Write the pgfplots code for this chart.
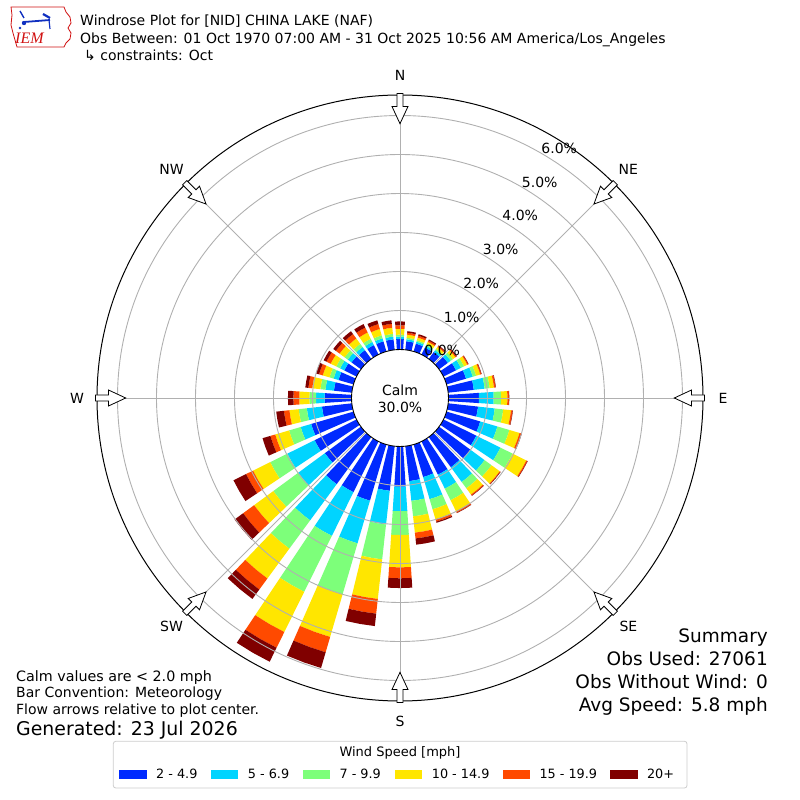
\documentclass[border=0pt]{standalone}
\usepackage{fontspec}
\setmainfont{DejaVu Sans}
\newfontfamily\lserif{Liberation Serif}
\usepackage{pgfplots}
\usepackage{pgfplotstable}
\pgfplotsset{compat=1.18}

\definecolor{spd1}{HTML}{002AFF}
\definecolor{spd2}{HTML}{00D4FF}
\definecolor{spd3}{HTML}{7DFF7A}
\definecolor{spd4}{HTML}{FFE600}
\definecolor{spd5}{HTML}{FF4A00}
\definecolor{spd6}{HTML}{800000}
\definecolor{gridc}{HTML}{B0B0B0}
\definecolor{legc}{HTML}{CCCCCC}
\definecolor{iemred}{HTML}{D01010}
\definecolor{iemblue}{HTML}{1030C0}

% cumulative frequency (%) per direction, speed bins stacked
\pgfplotstableread{
d   c1   c2   c3   c4   c5   c6
0   0.27 0.33 0.38 0.53 0.62 0.72
10  0.22 0.27 0.31 0.39 0.44 0.48
20  0.21 0.26 0.30 0.37 0.42 0.46
30  0.20 0.25 0.29 0.36 0.40 0.43
40  0.22 0.28 0.32 0.38 0.41 0.43
50  0.28 0.37 0.44 0.52 0.55 0.57
60  0.36 0.50 0.59 0.68 0.71 0.72
70  0.52 0.70 0.79 0.90 0.93 0.94
80  0.66 0.94 1.07 1.18 1.22 1.23
90  0.78 1.16 1.35 1.51 1.55 1.56
100 0.77 1.20 1.42 1.62 1.66 1.67
110 0.90 1.36 1.68 1.95 2.00 2.01
120 0.94 1.63 1.98 2.37 2.40 2.41
130 1.00 1.45 1.67 1.93 1.95 1.96
140 0.96 1.43 1.63 1.83 1.86 1.87
150 0.95 1.35 1.68 2.00 2.04 2.05
160 0.87 1.46 1.73 2.00 2.06 2.09
170 0.90 1.41 1.81 2.23 2.38 2.54
180 1.03 1.66 2.27 3.10 3.38 3.63
190 1.15 2.02 2.92 3.94 4.32 4.64
200 1.50 2.64 4.00 5.14 5.55 5.97
210 1.45 2.70 4.30 5.45 5.90 6.30
220 1.50 2.65 3.55 4.50 4.85 5.15
230 1.15 2.00 2.79 3.40 3.75 4.02
240 1.20 1.98 2.47 2.96 3.16 3.52
250 1.13 1.41 1.72 2.09 2.22 2.43
260 0.77 1.16 1.37 1.61 1.75 1.95
270 0.69 0.91 1.08 1.34 1.49 1.63
280 0.46 0.68 0.81 1.02 1.12 1.20
290 0.40 0.53 0.64 0.82 0.92 1.00
300 0.35 0.47 0.58 0.74 0.86 0.94
310 0.30 0.42 0.52 0.68 0.80 0.88
320 0.28 0.38 0.48 0.65 0.79 0.88
330 0.27 0.36 0.45 0.63 0.77 0.87
340 0.27 0.35 0.43 0.60 0.73 0.83
350 0.27 0.34 0.41 0.57 0.67 0.76
}\rosedata

\newcommand\hole{1.2436}
\newcommand\hw{3.7}
% #1 direction (deg, clockwise from N), #2 inner %, #3 outer %, #4 colour
\newcommand\roseseg[4]{%
  \pgfmathsetmacro\rA{\hole+#2}%
  \pgfmathsetmacro\rB{\hole+#3}%
  \pgfmathsetmacro\angA{#1-\hw}%
  \pgfmathsetmacro\angB{#1+\hw}%
  \pgfmathsetmacro\xa{\rA*sin(\angA)}\pgfmathsetmacro\ya{\rA*cos(\angA)}%
  \pgfmathsetmacro\xb{\rA*sin(#1)}\pgfmathsetmacro\yb{\rA*cos(#1)}%
  \pgfmathsetmacro\xc{\rA*sin(\angB)}\pgfmathsetmacro\yc{\rA*cos(\angB)}%
  \pgfmathsetmacro\xd{\rB*sin(\angB)}\pgfmathsetmacro\yd{\rB*cos(\angB)}%
  \pgfmathsetmacro\xe{\rB*sin(#1)}\pgfmathsetmacro\ye{\rB*cos(#1)}%
  \pgfmathsetmacro\xf{\rB*sin(\angA)}\pgfmathsetmacro\yf{\rB*cos(\angA)}%
  \edef\tmp{\noexpand\addplot[draw=none,fill=#4] coordinates {(\xa,\ya) (\xb,\yb) (\xc,\yc) (\xd,\yd) (\xe,\ye) (\xf,\yf)};}%
  \tmp
}
\newcommand\fs[1]{\fontsize{#1bp}{#1bp}\selectfont}

\begin{document}
\begin{tikzpicture}
\path[use as bounding box] (0,0) rectangle (800bp,800bp);
\begin{axis}[x=39bp,y=39bp,xmin=-8,xmax=8,ymin=-8,ymax=8,hide axis,clip=false,
  at={(400bp,402bp)},anchor=center]
\pgfplotsforeachungrouped \i in {0,...,35}{%
  \pgfplotstablegetelem{\i}{d}\of\rosedata\edef\dd{\pgfplotsretval}%
  \pgfplotstablegetelem{\i}{c1}\of\rosedata\edef\cA{\pgfplotsretval}%
  \pgfplotstablegetelem{\i}{c2}\of\rosedata\edef\cB{\pgfplotsretval}%
  \pgfplotstablegetelem{\i}{c3}\of\rosedata\edef\cC{\pgfplotsretval}%
  \pgfplotstablegetelem{\i}{c4}\of\rosedata\edef\cD{\pgfplotsretval}%
  \pgfplotstablegetelem{\i}{c5}\of\rosedata\edef\cE{\pgfplotsretval}%
  \pgfplotstablegetelem{\i}{c6}\of\rosedata\edef\cF{\pgfplotsretval}%
  \roseseg{\dd}{0}{\cA}{spd1}%
  \roseseg{\dd}{\cA}{\cB}{spd2}%
  \roseseg{\dd}{\cB}{\cC}{spd3}%
  \roseseg{\dd}{\cC}{\cD}{spd4}%
  \roseseg{\dd}{\cD}{\cE}{spd5}%
  \roseseg{\dd}{\cE}{\cF}{spd6}%
}
\end{axis}

\begin{scope}[x=1bp,y=1bp]
% grid
\foreach \k in {1,...,6}{
  \draw[gridc,line width=0.9] (400,402) circle[radius={48.5+39*\k}];
}
\foreach \t in {0,45,...,315}{
  \draw[gridc,line width=0.9] (400,402) -- ++({303*sin(\t)},{303*cos(\t)});
}
% calm hole
\filldraw[fill=white,draw=black,line width=0.9] (400,402) circle[radius=48.5];
\node[font=\fs{14}] at (400,410) {Calm};
\node[font=\fs{14}] at (400,393) {30.0\%};
% outer circle
\draw[black,line width=1] (400,402) circle[radius=303];
% arrows
\foreach \t in {0,45,...,315}{
  \begin{scope}[shift={(400,402)},rotate=-\t]
    \filldraw[fill=white,draw=black,line width=0.8] (-3,304.5) -- (-3,291.5) -- (-8,291.5) -- (0,274.3) -- (8,291.5) -- (3,291.5) -- (3,304.5) -- cycle;
  \end{scope}
}
% direction labels
\foreach \t/\l in {0/N,45/NE,90/E,135/SE,180/S,225/SW,270/W,315/NW}{
  \node[font=\fs{14},inner sep=0] at ({400+323*sin(\t)},{402+323*cos(\t)}) {\l};
}
% ring labels
\foreach \k in {0,...,6}{
  \node[font=\fs{14},inner sep=0,anchor=base west] at ({400+(48.5+39*\k)*sin(30)},{402+(48.5+39*\k)*cos(30)}) {\k.0\%};
}
% title
\node[font=\fs{14},inner sep=0,anchor=base west] at (80,774) {Windrose Plot for [NID] CHINA LAKE (NAF)};
\node[font=\fs{14},inner sep=0,anchor=base west] at (80,756.5) {Obs Between: 01 Oct 1970 07:00 AM - 31 Oct 2025 10:56 AM America/Los\_Angeles};
\node[font=\fs{14},inner sep=0,anchor=base west] at (84,739) {↳ constraints: Oct};
% logo
\draw[iemred,line width=0.8] (11,793) -- (64,793) -- (66,788) -- (70,783) -- (71,777) -- (68,772) -- (71,767) -- (70,761) -- (66,757) -- (64,753) -- (17,753) -- (15,760) -- (13,767) -- (11,775) -- (12,785) -- cycle;
\node[font={\lserif\itshape\fs{16}},text=iemred,inner sep=0,anchor=base west] at (15,756.7) {IEM};
\draw[iemblue,line width=1.8] (24,778) -- (50,780);
\fill[iemblue] (24,777) circle[radius=2.2];
\draw[iemblue,line width=1.4] (20,789) -- (24,782);
\draw[iemblue,line width=2.2] (43,786) -- (50,782);
\draw[iemblue,line width=1.2] (49,780) -- (50,771);
\fill[iemblue] (20,772) circle[radius=1.3];
% bottom-left notes
\node[font=\fs{14.3},inner sep=0,anchor=base west] at (16,119) {Calm values are < 2.0 mph};
\node[font=\fs{14},inner sep=0,anchor=base west] at (16,103) {Bar Convention: Meteorology};
\node[font=\fs{14},inner sep=0,anchor=base west] at (16,85.5) {Flow arrows relative to plot center.};
\node[font=\fs{18.9},inner sep=0,anchor=base west] at (16,65) {Generated: 23 Jul 2026};
% summary
\node[font=\fs{18.5},inner sep=0,anchor=base east] at (768,158) {Summary};
\node[font=\fs{18.5},inner sep=0,anchor=base east] at (768,134.5) {Obs Used: 27061};
\node[font=\fs{18.5},inner sep=0,anchor=base east] at (768,111.5) {Obs Without Wind: 0};
\node[font=\fs{18.5},inner sep=0,anchor=base east] at (768,88.5) {Avg Speed: 5.8 mph};
% legend
\filldraw[fill=white,draw=legc,line width=0.8,rounded corners=2.5] (113.3,12) rectangle (687,58.7);
\node[font=\fs{13},inner sep=0,anchor=base] at (400,44) {Wind Speed [mph]};
\foreach \px/\lab/\c in {119.3/2 - 4.9/spd1,211/5 - 6.9/spd2,302.7/7 - 9.9/spd3,395/10 - 14.9/spd4,502.6/15 - 19.9/spd5,610.2/20+/spd6}{
  \fill[\c] (\px,21.3) rectangle ++(27.4,8.4);
  \node[font=\fs{12.8},inner sep=0,anchor=base west] at (\px+36.7,21.3) {\lab};
}
\end{scope}
\end{tikzpicture}
\end{document}
